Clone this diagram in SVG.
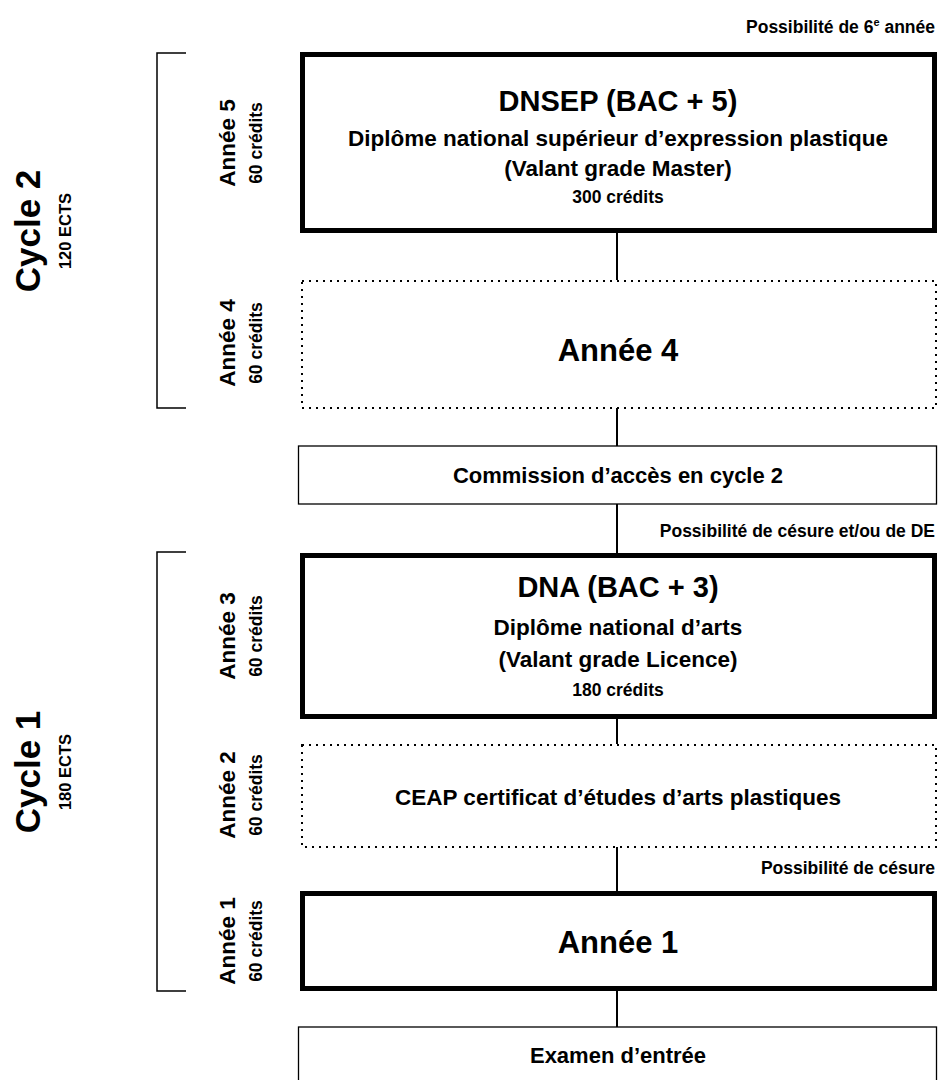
<svg xmlns="http://www.w3.org/2000/svg" width="939" height="1080" viewBox="0 0 939 1080">
<style>
.bg{fill:#fff}
.thick{fill:#fff;stroke:#000;stroke-width:5}
.dot{fill:#fff;stroke:#000;stroke-width:2;stroke-dasharray:2 5}
.thin{fill:#fff;stroke:#000;stroke-width:1.3}
.conn{stroke:#000;stroke-width:2;fill:none}
.br{stroke:#000;stroke-width:1.5;fill:none}
text{font-family:"Liberation Sans",Arial,sans-serif;font-weight:700;fill:#000}
.c{text-anchor:middle}
.r{text-anchor:end}
.t1{font-size:29px}
.t2{font-size:22.5px}
.t3{font-size:17.5px}
.big{font-size:31px}
.box{font-size:22px}
.note{font-size:17.5px}
.yr{font-size:22.5px}
.cr{font-size:17.5px}
.cy{font-size:35px}
.ects{font-size:16.5px}
</style>
<rect class="bg" x="0" y="0" width="939" height="1080"/>
<g id="connectors">
<line class="conn" x1="617" y1="233" x2="617" y2="280"/>
<line class="conn" x1="617" y1="408" x2="617" y2="446"/>
<line class="conn" x1="617" y1="504" x2="617" y2="553"/>
<line class="conn" x1="617" y1="719" x2="617" y2="744"/>
<line class="conn" x1="617" y1="847" x2="617" y2="891"/>
<line class="conn" x1="617" y1="991" x2="617" y2="1027"/>
</g>
<g id="cycle2">
<path class="br" d="M186,53 H157 V408 H186"/>
<text class="c cy" transform="translate(40,231) rotate(-90)">Cycle 2</text>
<text class="c ects" transform="translate(71,231) rotate(-90)">120 ECTS</text>
</g>
<g id="cycle1">
<path class="br" d="M186,552 H157 V991 H186"/>
<text class="c cy" transform="translate(40,772) rotate(-90)">Cycle 1</text>
<text class="c ects" transform="translate(71,772) rotate(-90)">180 ECTS</text>
</g>
<g id="labels">
<text class="c yr" transform="translate(235,143) rotate(-90)">Année 5</text>
<text class="c cr" transform="translate(262,143) rotate(-90)">60 crédits</text>
<text class="c yr" transform="translate(235,343) rotate(-90)">Année 4</text>
<text class="c cr" transform="translate(262,343) rotate(-90)">60 crédits</text>
<text class="c yr" transform="translate(235,636) rotate(-90)">Année 3</text>
<text class="c cr" transform="translate(262,636) rotate(-90)">60 crédits</text>
<text class="c yr" transform="translate(235,795) rotate(-90)">Année 2</text>
<text class="c cr" transform="translate(262,795) rotate(-90)">60 crédits</text>
<text class="c yr" transform="translate(235,941) rotate(-90)">Année 1</text>
<text class="c cr" transform="translate(262,941) rotate(-90)">60 crédits</text>
</g>
<g id="note6">
<text class="r note" x="935" y="33">Possibilité de 6<tspan font-size="11" dy="-7">e</tspan><tspan dy="7"> année</tspan></text>
</g>
<g id="dnsep">
<rect class="thick" x="302.5" y="54.5" width="632" height="176"/>
<text class="c t1" x="618" y="111">DNSEP (BAC + 5)</text>
<text class="c t2" x="618" y="146">Diplôme national supérieur d’expression plastique</text>
<text class="c t2" x="618" y="176">(Valant grade Master)</text>
<text class="c t3" x="618" y="203">300 crédits</text>
</g>
<g id="annee4">
<rect class="dot" x="302" y="281" width="634" height="127"/>
<text class="c big" x="618" y="361">Année 4</text>
</g>
<g id="commission">
<rect class="thin" x="298.5" y="446" width="638" height="58"/>
<text class="c box" x="618" y="483">Commission d’accès en cycle 2</text>
</g>
<g id="note-cesure-de">
<text class="r note" x="935" y="537">Possibilité de césure et/ou de DE</text>
</g>
<g id="dna">
<rect class="thick" x="302.5" y="555.5" width="632" height="161"/>
<text class="c t1" x="618" y="597">DNA (BAC + 3)</text>
<text class="c t2" x="618" y="635">Diplôme national d’arts</text>
<text class="c t2" x="618" y="667">(Valant grade Licence)</text>
<text class="c t3" x="618" y="696">180 crédits</text>
</g>
<g id="ceap">
<rect class="dot" x="302" y="745" width="634" height="102"/>
<text class="c t2" x="618" y="805">CEAP certificat d’études d’arts plastiques</text>
</g>
<g id="note-cesure">
<text class="r note" x="935" y="874">Possibilité de césure</text>
</g>
<g id="annee1">
<rect class="thick" x="302.5" y="893.5" width="632" height="95"/>
<text class="c big" x="618" y="953">Année 1</text>
</g>
<g id="examen">
<rect class="thin" x="298.5" y="1027" width="638" height="60"/>
<text class="c box" x="618" y="1063">Examen d’entrée</text>
</g>
</svg>
